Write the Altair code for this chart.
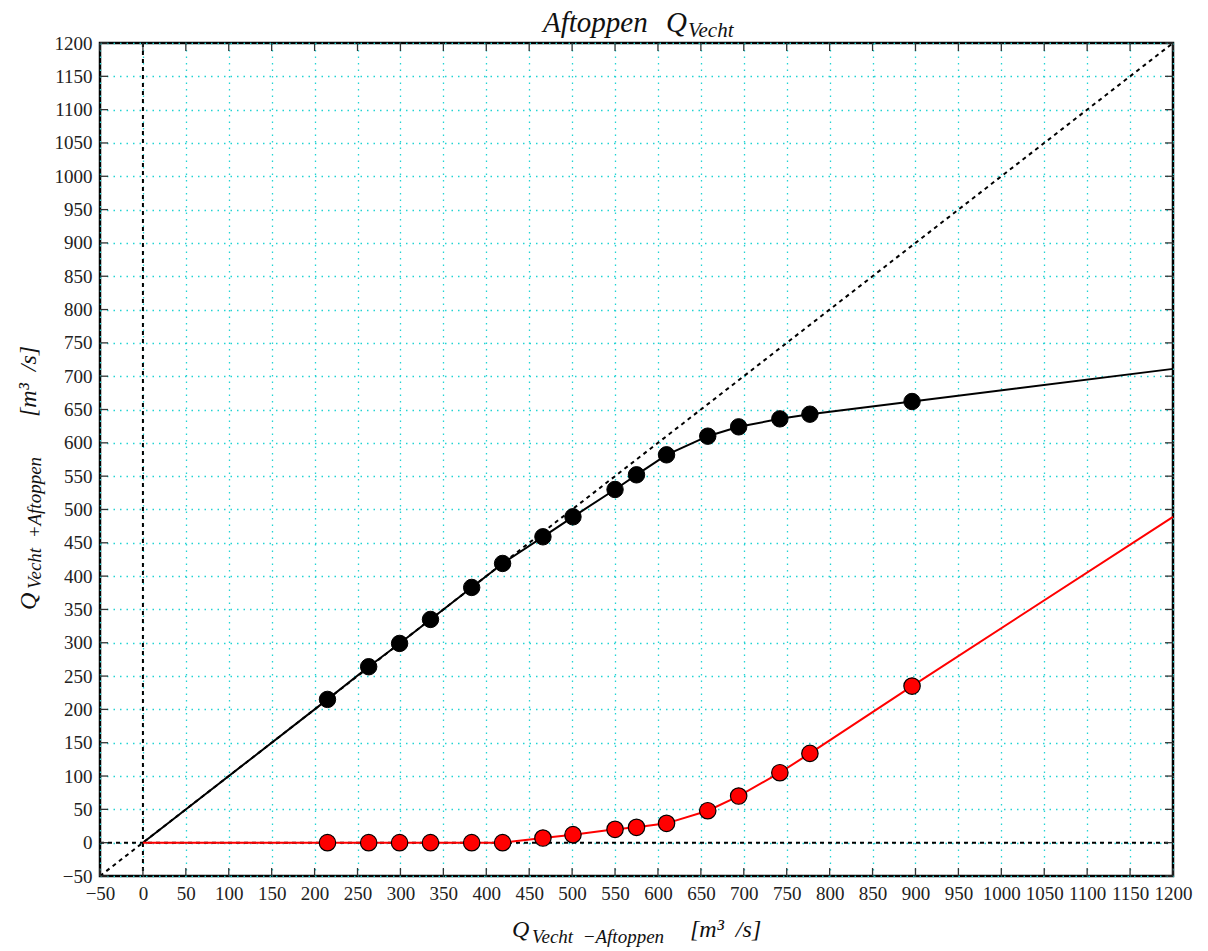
import altair as alt
import pandas as pd

# Measured discharges [m3/s]
q_vecht = [215, 263, 299, 335, 383, 419, 466, 501, 550, 575, 610, 658, 694, 742, 777, 896]
q_remaining = [215, 264, 299, 335, 383, 419, 459, 489, 530, 552, 582, 610, 624, 636, 643, 662]
q_peak_cut = [0, 0, 0, 0, 0, 0, 7, 12, 20, 23, 29, 48, 70, 105, 134, 235]

# Curve end points (origin and right edge of the range)
curve_x = [0] + q_vecht + [1200]
curve_remaining = [0] + q_remaining + [711]
curve_peak_cut = [0] + q_peak_cut + [489]

axis_range = [-50, 1200]
tick_values = list(range(-50, 1201, 50))

W, H = 1073, 833
SERIF = "Liberation Serif"
GRID = "#22d3d3"

pts = pd.DataFrame({"x": q_vecht, "remaining": q_remaining, "cut": q_peak_cut})
curves = pd.DataFrame({"x": curve_x, "remaining": curve_remaining, "cut": curve_peak_cut})
diag = pd.DataFrame({"x": axis_range, "y": axis_range})
ticks = pd.DataFrame({"t": tick_values})
zero = pd.DataFrame({"v": [0]})
one = pd.DataFrame({"k": [0]})

xs = alt.Scale(domain=axis_range, nice=False, zero=False)
ys = alt.Scale(domain=axis_range, nice=False, zero=False)
xax = alt.Axis(values=tick_values, title=None, format="d")
yax = alt.Axis(values=tick_values, title=None, format="d")


def X(field):
    return alt.X(field, type="quantitative", scale=xs, axis=xax)


def Y(field):
    return alt.Y(field, type="quantitative", scale=ys, axis=yax)


# reference lines: y = x, x = 0, y = 0
diag_line = alt.Chart(diag).mark_line(color="black", strokeWidth=2, strokeDash=[4, 4]).encode(
    x=X("x"), y=Y("y"))
vline = alt.Chart(zero).mark_rule(color="black", strokeWidth=2, strokeDash=[4, 4]).encode(
    x=X("v"), y=alt.value(0), y2=alt.value(H))
hline = alt.Chart(zero).mark_rule(color="black", strokeWidth=2, strokeDash=[4, 4]).encode(
    y=Y("v"), x=alt.value(0), x2=alt.value(W))

# curves
line_rem = alt.Chart(curves).mark_line(color="black", strokeWidth=2).encode(
    x=X("x"), y=Y("remaining"))
line_cut = alt.Chart(curves).mark_line(color="#ff0000", strokeWidth=2).encode(
    x=X("x"), y=Y("cut"))
pts_rem = alt.Chart(pts).mark_point(filled=True, shape="circle", size=270, color="black",
                                    stroke="black", strokeWidth=1, opacity=1).encode(
    x=X("x"), y=Y("remaining"))
pts_cut = alt.Chart(pts).mark_point(filled=True, shape="circle", size=270, fill="#ff0000",
                                    stroke="black", strokeWidth=1.2, opacity=1, fillOpacity=1).encode(
    x=X("x"), y=Y("cut"))

# inward tick marks on all four sides
tk = dict(color="#333333", strokeWidth=1.3)
t_bottom = alt.Chart(ticks).mark_rule(**tk).encode(x=X("t"), y=alt.value(H), y2=alt.value(H - 8))
t_top = alt.Chart(ticks).mark_rule(**tk).encode(x=X("t"), y=alt.value(0), y2=alt.value(8))
t_left = alt.Chart(ticks).mark_rule(**tk).encode(y=Y("t"), x=alt.value(0), x2=alt.value(8))
t_right = alt.Chart(ticks).mark_rule(**tk).encode(y=Y("t"), x=alt.value(W), x2=alt.value(W - 8))


def label(text, x, y, size, angle=0):
    return alt.Chart(one).mark_text(
        text=text, font=SERIF, fontStyle="italic", fontSize=size, align="left",
        baseline="alphabetic", angle=angle, color="#111111").encode(
        x=alt.value(x), y=alt.value(y))


texts = [
    # title
    label("Aftoppen", 443, -11, 29),
    label("Q", 566, -11, 29),
    label("Vecht", 588, -6, 21),
    # x-axis title
    label("Q", 412, 894, 24),
    label("Vecht\u00a0\u00a0\u2212Aftoppen", 432, 900, 19),
    label("[m\u00b3\u00a0\u00a0/s]", 590, 894, 24),
    # y-axis title
    label("Q", -64, 567, 24, 270),
    label("Vecht\u00a0\u00a0+Aftoppen", -59, 546, 19, 270),
    label("[m\u00b3\u00a0\u00a0/s]", -64, 374, 24, 270),
]

chart = alt.layer(
    diag_line, vline, hline, line_rem, line_cut, pts_rem, pts_cut,
    t_bottom, t_top, t_left, t_right, *texts
).properties(
    width=W, height=H,
    autosize=alt.AutoSizeParams(type="none"),
    padding={"left": 100, "top": 43, "right": 35, "bottom": 75},
).configure_view(
    stroke="black", strokeWidth=2.5
).configure_axis(
    domain=False, tickSize=0, labelPadding=8, labelFont=SERIF, labelFontSize=19,
    labelColor="#222222", grid=True, gridColor=GRID, gridDash=[1.5, 5], gridWidth=1.3,
    gridOpacity=1, labelFlush=False, labelOverlap=False
)

chart.save("out.html", embed_options={"renderer": "svg", "actions": False})
